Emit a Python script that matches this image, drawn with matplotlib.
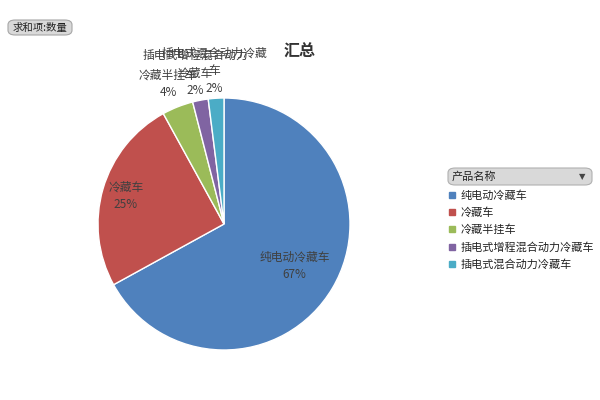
import numpy as np
import matplotlib
matplotlib.use("Agg")
import matplotlib.pyplot as plt
from matplotlib.patches import FancyBboxPatch
from matplotlib.lines import Line2D

plt.rcParams['font.family'] = ['Noto Sans CJK SC', 'DejaVu Sans']

categories = ["纯电动冷藏车", "冷藏车", "冷藏半挂车", "插电式增程混合动力冷藏车", "插电式混合动力冷藏车"]
label_texts = ["纯电动冷藏车", "冷藏车", "冷藏半挂车", "插电式增程混合动力\n冷藏车", "插电式混合动力冷藏\n车"]
values = [67, 25, 4, 2, 2]
colors = ["#4F81BD", "#C0504D", "#9BBB59", "#8064A2", "#4BACC6"]
title = "汇总"
legend_title = "产品名称"
field_button = "求和项:数量"

W, H = 600, 400
fig = plt.figure(figsize=(6, 4), dpi=100)
fig.patch.set_facecolor("white")

cx, cy, R = 224, 224, 126
ax = fig.add_axes([(cx - R) / W, (H - cy - R) / H, 2 * R / W, 2 * R / H])
wedges, _ = ax.pie(values, colors=colors, startangle=90, counterclock=False,
                   wedgeprops=dict(edgecolor="white", linewidth=1.0))
ax.set_xlim(-1, 1)
ax.set_ylim(-1, 1)
ax.set_aspect("equal")
ax.set_clip_on(False)

label_r = [0.65, 0.81, 1.2, 1.22, 1.22]
total = sum(values)
for w, txt, v, r in zip(wedges, label_texts, values, label_r):
    ang = np.deg2rad((w.theta1 + w.theta2) / 2)
    x, y = r * np.cos(ang), r * np.sin(ang)
    ax.text(x, y, f"{txt}\n{round(100 * v / total)}%", ha="center", va="center",
            fontsize=8.5, color="#404040", linespacing=1.45, clip_on=False)

fig.text(300 / W, 1 - 52 / H, title, ha="center", va="center", fontsize=11.5,
         fontweight="bold", color="#333333")

# Field button
btn = FancyBboxPatch((8 / W, 1 - 35 / H), 64 / W, 15 / H,
                     boxstyle="round,pad=0,rounding_size=0.012",
                     transform=fig.transFigure, facecolor="#d9d9d9",
                     edgecolor="#a6a6a6", linewidth=0.8)
fig.patches.append(btn)
fig.text(40 / W, 1 - 27.5 / H, field_button, ha="center", va="center",
         fontsize=7.5, color="#222222")

# Legend header
hdr = FancyBboxPatch((448 / W, 1 - 185 / H), 144 / W, 17 / H,
                     boxstyle="round,pad=0,rounding_size=0.012",
                     transform=fig.transFigure, facecolor="#d9d9d9",
                     edgecolor="#b0b0b0", linewidth=0.8)
fig.patches.append(hdr)
fig.text(452 / W, 1 - 176.5 / H, legend_title, ha="left", va="center",
         fontsize=8, color="#222222")
fig.text(582 / W, 1 - 176.5 / H, "▼", ha="center", va="center",
         fontsize=6, color="#444444", family="DejaVu Sans")

handles = [Line2D([], [], marker="s", linestyle="none", markersize=4.5,
                  markerfacecolor=c, markeredgecolor=c) for c in colors]
fig.legend(handles, categories, loc="upper left",
           bbox_to_anchor=(449 / W, 1 - 190 / H), frameon=False,
           fontsize=8, handlelength=0.6, handletextpad=0.4,
           labelspacing=0.6, borderpad=0, borderaxespad=0,
           labelcolor="#222222")

fig.savefig("out.png", dpi=100, facecolor="white")
